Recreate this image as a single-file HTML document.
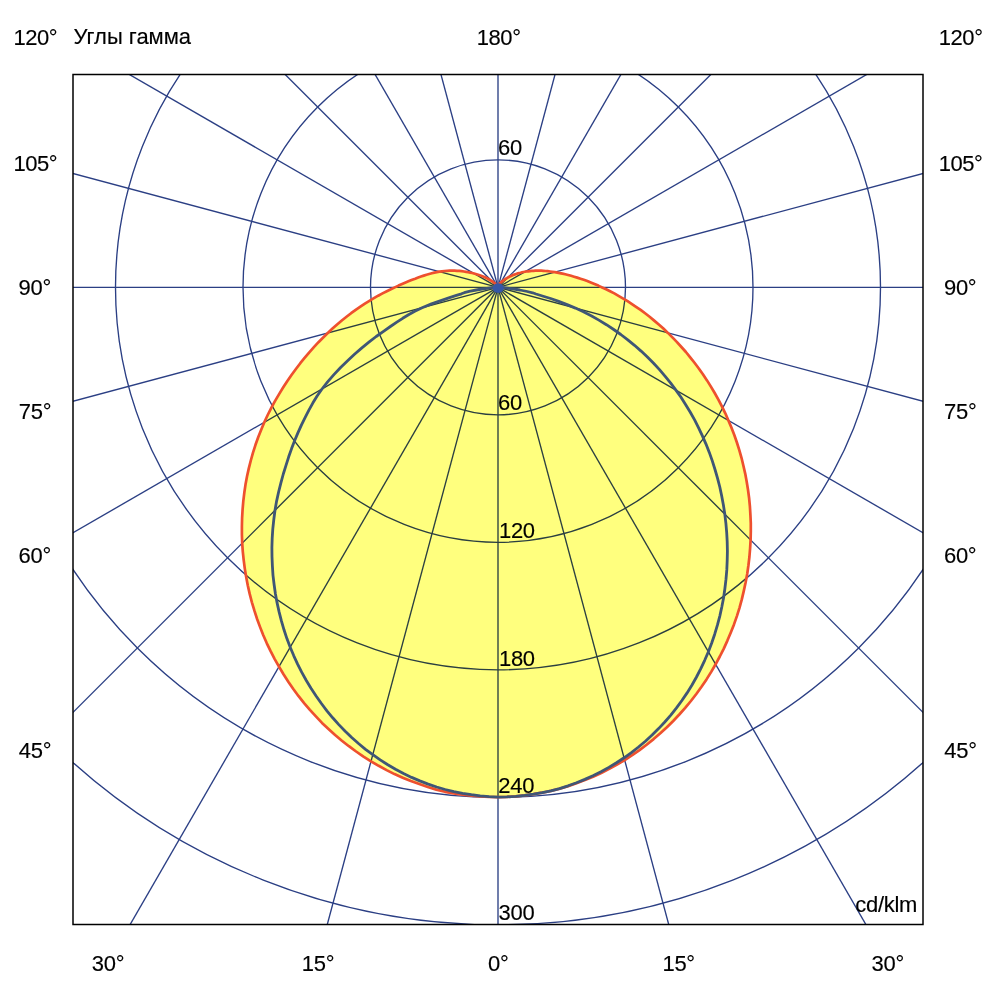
<!DOCTYPE html>
<html lang="ru">
<head>
<meta charset="utf-8">
<title>Углы гамма</title>
<style>
html,body{margin:0;padding:0;background:#fff;}
body{width:1000px;height:1000px;overflow:hidden;}
svg{display:block;}
text{font-family:"Liberation Sans",sans-serif;font-size:22px;fill:#000;stroke:#000;stroke-width:0.15px;}
</style>
</head>
<body>
<svg width="1000" height="1000" viewBox="0 0 1000 1000">
<defs>
<clipPath id="fr"><rect x="73.0" y="74.5" width="850.0" height="850.0"/></clipPath>
<clipPath id="inside"><path d="M498.0,287.4 L498.0,287.2 L498.0,287.1 L498.0,287.1 L498.0,287.0 L498.0,286.9 L498.0,286.9 L497.9,286.8 L497.9,286.8 L497.9,286.8 L497.9,286.7 L497.9,286.7 L497.9,286.7 L497.8,286.7 L497.8,286.7 L497.8,286.7 L497.8,286.6 L497.8,286.6 L497.7,286.6 L497.7,286.5 L497.7,286.5 L497.7,286.5 L497.6,286.4 L497.6,286.3 L497.5,286.2 L497.4,286.1 L497.4,286.0 L497.3,285.9 L497.2,285.8 L497.0,285.6 L496.9,285.4 L496.7,285.3 L496.6,285.1 L496.4,284.8 L496.1,284.6 L495.9,284.3 L495.6,284.1 L495.3,283.8 L495.0,283.5 L494.6,283.2 L494.2,282.8 L493.7,282.5 L493.3,282.1 L492.7,281.7 L492.1,281.3 L491.5,280.9 L490.8,280.4 L490.1,280.0 L489.3,279.5 L488.4,279.0 L487.5,278.5 L486.5,278.0 L485.4,277.5 L484.3,277.0 L483.1,276.5 L481.8,276.0 L480.4,275.5 L478.9,275.0 L477.4,274.5 L475.7,274.0 L474.0,273.5 L472.2,273.0 L470.2,272.6 L468.2,272.2 L466.1,271.8 L463.9,271.5 L461.7,271.2 L459.4,270.9 L457.0,270.8 L454.5,270.7 L452.1,270.6 L449.6,270.7 L447.1,270.8 L444.5,271.0 L442.0,271.3 L439.4,271.6 L436.8,272.1 L434.3,272.6 L431.8,273.3 L429.2,274.0 L426.5,274.7 L423.8,275.6 L421.0,276.5 L418.2,277.5 L415.2,278.7 L412.2,279.8 L409.0,281.1 L405.6,282.5 L402.1,284.0 L398.5,285.6 L394.8,287.4 L390.9,289.2 L386.8,291.2 L382.5,293.4 L378.2,295.7 L373.9,298.2 L369.4,300.9 L364.9,303.7 L360.4,306.7 L355.7,309.9 L351.1,313.2 L346.5,316.8 L341.8,320.5 L337.1,324.5 L332.5,328.6 L327.8,333.0 L323.2,337.5 L318.5,342.2 L313.9,347.2 L309.3,352.3 L304.8,357.7 L300.3,363.2 L295.9,369.0 L291.5,375.0 L287.2,381.2 L283.1,387.6 L279.1,394.1 L275.1,400.9 L271.3,407.9 L267.7,415.0 L264.3,422.3 L261.2,429.7 L258.2,437.2 L255.5,444.8 L253.0,452.6 L250.8,460.5 L248.8,468.4 L247.0,476.5 L245.5,484.6 L244.3,492.8 L243.3,501.1 L242.6,509.4 L242.1,517.8 L241.9,526.2 L241.9,534.6 L242.2,543.1 L242.8,551.6 L243.7,560.1 L244.8,568.6 L246.2,577.1 L247.8,585.5 L249.7,593.9 L251.9,602.3 L254.4,610.7 L257.1,619.0 L260.1,627.1 L263.3,635.3 L266.8,643.3 L270.6,651.2 L274.7,659.1 L279.0,666.7 L283.5,674.3 L288.3,681.7 L293.3,689.0 L298.6,696.2 L304.1,703.1 L309.9,709.8 L315.9,716.4 L322.0,722.9 L328.5,729.0 L335.1,735.0 L341.9,740.7 L348.9,746.2 L356.1,751.5 L363.5,756.6 L371.0,761.3 L378.7,765.8 L386.6,770.1 L394.5,774.1 L402.7,777.7 L410.9,781.1 L419.3,784.1 L427.8,787.0 L436.3,789.6 L445.0,791.8 L453.7,793.4 L462.5,794.7 L471.4,795.7 L480.2,796.5 L489.1,797.0 L498.0,797.2 L506.9,796.9 L515.8,796.3 L524.6,795.3 L533.4,794.1 L542.2,792.7 L550.9,790.9 L559.6,788.7 L568.1,786.1 L576.5,783.2 L584.9,780.1 L593.1,776.7 L601.2,773.0 L609.2,768.9 L617.0,764.6 L624.7,760.0 L632.2,755.2 L639.5,750.1 L646.6,744.7 L653.6,739.1 L660.3,733.3 L666.9,727.3 L673.2,721.0 L679.3,714.5 L685.2,707.9 L690.9,701.0 L696.3,694.0 L701.5,686.8 L706.5,679.4 L711.2,671.9 L715.6,664.3 L719.8,656.5 L723.8,648.6 L727.4,640.6 L730.8,632.5 L734.0,624.4 L736.9,616.1 L739.5,607.8 L741.8,599.4 L743.8,590.9 L745.6,582.5 L747.2,574.0 L748.4,565.5 L749.4,557.0 L750.1,548.4 L750.6,540.0 L750.8,531.5 L750.8,523.1 L750.4,514.6 L749.9,506.3 L749.1,498.0 L748.0,489.8 L746.7,481.7 L745.2,473.6 L743.4,465.7 L741.5,457.8 L739.3,450.1 L736.9,442.5 L734.3,435.0 L731.4,427.6 L728.4,420.4 L725.3,413.3 L721.9,406.4 L718.4,399.6 L714.7,393.0 L710.9,386.6 L707.0,380.4 L702.9,374.3 L698.8,368.5 L694.5,362.8 L690.2,357.3 L685.9,352.0 L681.4,347.0 L677.0,342.1 L672.4,337.4 L667.9,332.9 L663.4,328.6 L658.8,324.5 L654.2,320.6 L649.6,316.8 L645.1,313.3 L640.6,309.9 L636.0,306.8 L631.6,303.8 L627.2,300.9 L622.8,298.3 L618.5,295.8 L614.3,293.4 L610.1,291.3 L606.1,289.2 L602.1,287.4 L598.3,285.6 L594.5,284.0 L590.8,282.5 L587.3,281.1 L583.8,279.8 L580.5,278.7 L577.2,277.6 L574.1,276.7 L571.1,275.8 L568.1,275.0 L565.3,274.3 L562.5,273.6 L559.8,273.1 L557.3,272.6 L554.8,272.1 L552.3,271.8 L550.0,271.5 L547.7,271.2 L545.5,271.0 L543.4,270.8 L541.3,270.7 L539.2,270.7 L537.3,270.7 L535.4,270.7 L533.5,270.8 L531.7,270.9 L530.0,271.1 L528.3,271.3 L526.6,271.5 L525.0,271.7 L523.5,272.0 L522.0,272.3 L520.6,272.7 L519.2,273.0 L517.9,273.4 L516.7,273.8 L515.5,274.2 L514.3,274.6 L513.2,275.0 L512.2,275.5 L511.2,275.9 L510.2,276.3 L509.3,276.8 L508.5,277.2 L507.7,277.6 L507.0,278.1 L506.3,278.5 L505.6,278.9 L505.0,279.3 L504.4,279.7 L503.9,280.1 L503.4,280.4 L503.0,280.8 L502.6,281.1 L502.2,281.4 L501.8,281.7 L501.5,281.9 L501.2,282.2 L501.0,282.4 L500.7,282.6 L500.5,282.8 L500.3,283.0 L500.1,283.2 L499.9,283.4 L499.8,283.5 L499.6,283.7 L499.5,283.8 L499.4,283.9 L499.3,284.0 L499.2,284.2 L499.1,284.3 L499.0,284.4 L498.9,284.5 L498.8,284.6 L498.7,284.7 L498.6,284.8 L498.6,284.9 L498.5,285.0 L498.4,285.1 L498.4,285.2 L498.3,285.4 L498.3,285.6 L498.2,285.7 L498.1,285.9 L498.1,286.1 L498.1,286.3 L498.0,286.6 L498.0,286.8 L498.0,287.1 L498.0,287.4Z"/></clipPath>
<clipPath id="outside"><path clip-rule="evenodd" d="M73.0,74.5H923.0V924.5H73.0Z M498.0,287.4 L498.0,287.2 L498.0,287.1 L498.0,287.1 L498.0,287.0 L498.0,286.9 L498.0,286.9 L497.9,286.8 L497.9,286.8 L497.9,286.8 L497.9,286.7 L497.9,286.7 L497.9,286.7 L497.8,286.7 L497.8,286.7 L497.8,286.7 L497.8,286.6 L497.8,286.6 L497.7,286.6 L497.7,286.5 L497.7,286.5 L497.7,286.5 L497.6,286.4 L497.6,286.3 L497.5,286.2 L497.4,286.1 L497.4,286.0 L497.3,285.9 L497.2,285.8 L497.0,285.6 L496.9,285.4 L496.7,285.3 L496.6,285.1 L496.4,284.8 L496.1,284.6 L495.9,284.3 L495.6,284.1 L495.3,283.8 L495.0,283.5 L494.6,283.2 L494.2,282.8 L493.7,282.5 L493.3,282.1 L492.7,281.7 L492.1,281.3 L491.5,280.9 L490.8,280.4 L490.1,280.0 L489.3,279.5 L488.4,279.0 L487.5,278.5 L486.5,278.0 L485.4,277.5 L484.3,277.0 L483.1,276.5 L481.8,276.0 L480.4,275.5 L478.9,275.0 L477.4,274.5 L475.7,274.0 L474.0,273.5 L472.2,273.0 L470.2,272.6 L468.2,272.2 L466.1,271.8 L463.9,271.5 L461.7,271.2 L459.4,270.9 L457.0,270.8 L454.5,270.7 L452.1,270.6 L449.6,270.7 L447.1,270.8 L444.5,271.0 L442.0,271.3 L439.4,271.6 L436.8,272.1 L434.3,272.6 L431.8,273.3 L429.2,274.0 L426.5,274.7 L423.8,275.6 L421.0,276.5 L418.2,277.5 L415.2,278.7 L412.2,279.8 L409.0,281.1 L405.6,282.5 L402.1,284.0 L398.5,285.6 L394.8,287.4 L390.9,289.2 L386.8,291.2 L382.5,293.4 L378.2,295.7 L373.9,298.2 L369.4,300.9 L364.9,303.7 L360.4,306.7 L355.7,309.9 L351.1,313.2 L346.5,316.8 L341.8,320.5 L337.1,324.5 L332.5,328.6 L327.8,333.0 L323.2,337.5 L318.5,342.2 L313.9,347.2 L309.3,352.3 L304.8,357.7 L300.3,363.2 L295.9,369.0 L291.5,375.0 L287.2,381.2 L283.1,387.6 L279.1,394.1 L275.1,400.9 L271.3,407.9 L267.7,415.0 L264.3,422.3 L261.2,429.7 L258.2,437.2 L255.5,444.8 L253.0,452.6 L250.8,460.5 L248.8,468.4 L247.0,476.5 L245.5,484.6 L244.3,492.8 L243.3,501.1 L242.6,509.4 L242.1,517.8 L241.9,526.2 L241.9,534.6 L242.2,543.1 L242.8,551.6 L243.7,560.1 L244.8,568.6 L246.2,577.1 L247.8,585.5 L249.7,593.9 L251.9,602.3 L254.4,610.7 L257.1,619.0 L260.1,627.1 L263.3,635.3 L266.8,643.3 L270.6,651.2 L274.7,659.1 L279.0,666.7 L283.5,674.3 L288.3,681.7 L293.3,689.0 L298.6,696.2 L304.1,703.1 L309.9,709.8 L315.9,716.4 L322.0,722.9 L328.5,729.0 L335.1,735.0 L341.9,740.7 L348.9,746.2 L356.1,751.5 L363.5,756.6 L371.0,761.3 L378.7,765.8 L386.6,770.1 L394.5,774.1 L402.7,777.7 L410.9,781.1 L419.3,784.1 L427.8,787.0 L436.3,789.6 L445.0,791.8 L453.7,793.4 L462.5,794.7 L471.4,795.7 L480.2,796.5 L489.1,797.0 L498.0,797.2 L506.9,796.9 L515.8,796.3 L524.6,795.3 L533.4,794.1 L542.2,792.7 L550.9,790.9 L559.6,788.7 L568.1,786.1 L576.5,783.2 L584.9,780.1 L593.1,776.7 L601.2,773.0 L609.2,768.9 L617.0,764.6 L624.7,760.0 L632.2,755.2 L639.5,750.1 L646.6,744.7 L653.6,739.1 L660.3,733.3 L666.9,727.3 L673.2,721.0 L679.3,714.5 L685.2,707.9 L690.9,701.0 L696.3,694.0 L701.5,686.8 L706.5,679.4 L711.2,671.9 L715.6,664.3 L719.8,656.5 L723.8,648.6 L727.4,640.6 L730.8,632.5 L734.0,624.4 L736.9,616.1 L739.5,607.8 L741.8,599.4 L743.8,590.9 L745.6,582.5 L747.2,574.0 L748.4,565.5 L749.4,557.0 L750.1,548.4 L750.6,540.0 L750.8,531.5 L750.8,523.1 L750.4,514.6 L749.9,506.3 L749.1,498.0 L748.0,489.8 L746.7,481.7 L745.2,473.6 L743.4,465.7 L741.5,457.8 L739.3,450.1 L736.9,442.5 L734.3,435.0 L731.4,427.6 L728.4,420.4 L725.3,413.3 L721.9,406.4 L718.4,399.6 L714.7,393.0 L710.9,386.6 L707.0,380.4 L702.9,374.3 L698.8,368.5 L694.5,362.8 L690.2,357.3 L685.9,352.0 L681.4,347.0 L677.0,342.1 L672.4,337.4 L667.9,332.9 L663.4,328.6 L658.8,324.5 L654.2,320.6 L649.6,316.8 L645.1,313.3 L640.6,309.9 L636.0,306.8 L631.6,303.8 L627.2,300.9 L622.8,298.3 L618.5,295.8 L614.3,293.4 L610.1,291.3 L606.1,289.2 L602.1,287.4 L598.3,285.6 L594.5,284.0 L590.8,282.5 L587.3,281.1 L583.8,279.8 L580.5,278.7 L577.2,277.6 L574.1,276.7 L571.1,275.8 L568.1,275.0 L565.3,274.3 L562.5,273.6 L559.8,273.1 L557.3,272.6 L554.8,272.1 L552.3,271.8 L550.0,271.5 L547.7,271.2 L545.5,271.0 L543.4,270.8 L541.3,270.7 L539.2,270.7 L537.3,270.7 L535.4,270.7 L533.5,270.8 L531.7,270.9 L530.0,271.1 L528.3,271.3 L526.6,271.5 L525.0,271.7 L523.5,272.0 L522.0,272.3 L520.6,272.7 L519.2,273.0 L517.9,273.4 L516.7,273.8 L515.5,274.2 L514.3,274.6 L513.2,275.0 L512.2,275.5 L511.2,275.9 L510.2,276.3 L509.3,276.8 L508.5,277.2 L507.7,277.6 L507.0,278.1 L506.3,278.5 L505.6,278.9 L505.0,279.3 L504.4,279.7 L503.9,280.1 L503.4,280.4 L503.0,280.8 L502.6,281.1 L502.2,281.4 L501.8,281.7 L501.5,281.9 L501.2,282.2 L501.0,282.4 L500.7,282.6 L500.5,282.8 L500.3,283.0 L500.1,283.2 L499.9,283.4 L499.8,283.5 L499.6,283.7 L499.5,283.8 L499.4,283.9 L499.3,284.0 L499.2,284.2 L499.1,284.3 L499.0,284.4 L498.9,284.5 L498.8,284.6 L498.7,284.7 L498.6,284.8 L498.6,284.9 L498.5,285.0 L498.4,285.1 L498.4,285.2 L498.3,285.4 L498.3,285.6 L498.2,285.7 L498.1,285.9 L498.1,286.1 L498.1,286.3 L498.0,286.6 L498.0,286.8 L498.0,287.1 L498.0,287.4Z"/></clipPath>
</defs>
<rect x="0" y="0" width="1000" height="1000" fill="#fff"/>
<path d="M498.0,287.4 L498.0,287.2 L498.0,287.1 L498.0,287.1 L498.0,287.0 L498.0,286.9 L498.0,286.9 L497.9,286.8 L497.9,286.8 L497.9,286.8 L497.9,286.7 L497.9,286.7 L497.9,286.7 L497.8,286.7 L497.8,286.7 L497.8,286.7 L497.8,286.6 L497.8,286.6 L497.7,286.6 L497.7,286.5 L497.7,286.5 L497.7,286.5 L497.6,286.4 L497.6,286.3 L497.5,286.2 L497.4,286.1 L497.4,286.0 L497.3,285.9 L497.2,285.8 L497.0,285.6 L496.9,285.4 L496.7,285.3 L496.6,285.1 L496.4,284.8 L496.1,284.6 L495.9,284.3 L495.6,284.1 L495.3,283.8 L495.0,283.5 L494.6,283.2 L494.2,282.8 L493.7,282.5 L493.3,282.1 L492.7,281.7 L492.1,281.3 L491.5,280.9 L490.8,280.4 L490.1,280.0 L489.3,279.5 L488.4,279.0 L487.5,278.5 L486.5,278.0 L485.4,277.5 L484.3,277.0 L483.1,276.5 L481.8,276.0 L480.4,275.5 L478.9,275.0 L477.4,274.5 L475.7,274.0 L474.0,273.5 L472.2,273.0 L470.2,272.6 L468.2,272.2 L466.1,271.8 L463.9,271.5 L461.7,271.2 L459.4,270.9 L457.0,270.8 L454.5,270.7 L452.1,270.6 L449.6,270.7 L447.1,270.8 L444.5,271.0 L442.0,271.3 L439.4,271.6 L436.8,272.1 L434.3,272.6 L431.8,273.3 L429.2,274.0 L426.5,274.7 L423.8,275.6 L421.0,276.5 L418.2,277.5 L415.2,278.7 L412.2,279.8 L409.0,281.1 L405.6,282.5 L402.1,284.0 L398.5,285.6 L394.8,287.4 L390.9,289.2 L386.8,291.2 L382.5,293.4 L378.2,295.7 L373.9,298.2 L369.4,300.9 L364.9,303.7 L360.4,306.7 L355.7,309.9 L351.1,313.2 L346.5,316.8 L341.8,320.5 L337.1,324.5 L332.5,328.6 L327.8,333.0 L323.2,337.5 L318.5,342.2 L313.9,347.2 L309.3,352.3 L304.8,357.7 L300.3,363.2 L295.9,369.0 L291.5,375.0 L287.2,381.2 L283.1,387.6 L279.1,394.1 L275.1,400.9 L271.3,407.9 L267.7,415.0 L264.3,422.3 L261.2,429.7 L258.2,437.2 L255.5,444.8 L253.0,452.6 L250.8,460.5 L248.8,468.4 L247.0,476.5 L245.5,484.6 L244.3,492.8 L243.3,501.1 L242.6,509.4 L242.1,517.8 L241.9,526.2 L241.9,534.6 L242.2,543.1 L242.8,551.6 L243.7,560.1 L244.8,568.6 L246.2,577.1 L247.8,585.5 L249.7,593.9 L251.9,602.3 L254.4,610.7 L257.1,619.0 L260.1,627.1 L263.3,635.3 L266.8,643.3 L270.6,651.2 L274.7,659.1 L279.0,666.7 L283.5,674.3 L288.3,681.7 L293.3,689.0 L298.6,696.2 L304.1,703.1 L309.9,709.8 L315.9,716.4 L322.0,722.9 L328.5,729.0 L335.1,735.0 L341.9,740.7 L348.9,746.2 L356.1,751.5 L363.5,756.6 L371.0,761.3 L378.7,765.8 L386.6,770.1 L394.5,774.1 L402.7,777.7 L410.9,781.1 L419.3,784.1 L427.8,787.0 L436.3,789.6 L445.0,791.8 L453.7,793.4 L462.5,794.7 L471.4,795.7 L480.2,796.5 L489.1,797.0 L498.0,797.2 L506.9,796.9 L515.8,796.3 L524.6,795.3 L533.4,794.1 L542.2,792.7 L550.9,790.9 L559.6,788.7 L568.1,786.1 L576.5,783.2 L584.9,780.1 L593.1,776.7 L601.2,773.0 L609.2,768.9 L617.0,764.6 L624.7,760.0 L632.2,755.2 L639.5,750.1 L646.6,744.7 L653.6,739.1 L660.3,733.3 L666.9,727.3 L673.2,721.0 L679.3,714.5 L685.2,707.9 L690.9,701.0 L696.3,694.0 L701.5,686.8 L706.5,679.4 L711.2,671.9 L715.6,664.3 L719.8,656.5 L723.8,648.6 L727.4,640.6 L730.8,632.5 L734.0,624.4 L736.9,616.1 L739.5,607.8 L741.8,599.4 L743.8,590.9 L745.6,582.5 L747.2,574.0 L748.4,565.5 L749.4,557.0 L750.1,548.4 L750.6,540.0 L750.8,531.5 L750.8,523.1 L750.4,514.6 L749.9,506.3 L749.1,498.0 L748.0,489.8 L746.7,481.7 L745.2,473.6 L743.4,465.7 L741.5,457.8 L739.3,450.1 L736.9,442.5 L734.3,435.0 L731.4,427.6 L728.4,420.4 L725.3,413.3 L721.9,406.4 L718.4,399.6 L714.7,393.0 L710.9,386.6 L707.0,380.4 L702.9,374.3 L698.8,368.5 L694.5,362.8 L690.2,357.3 L685.9,352.0 L681.4,347.0 L677.0,342.1 L672.4,337.4 L667.9,332.9 L663.4,328.6 L658.8,324.5 L654.2,320.6 L649.6,316.8 L645.1,313.3 L640.6,309.9 L636.0,306.8 L631.6,303.8 L627.2,300.9 L622.8,298.3 L618.5,295.8 L614.3,293.4 L610.1,291.3 L606.1,289.2 L602.1,287.4 L598.3,285.6 L594.5,284.0 L590.8,282.5 L587.3,281.1 L583.8,279.8 L580.5,278.7 L577.2,277.6 L574.1,276.7 L571.1,275.8 L568.1,275.0 L565.3,274.3 L562.5,273.6 L559.8,273.1 L557.3,272.6 L554.8,272.1 L552.3,271.8 L550.0,271.5 L547.7,271.2 L545.5,271.0 L543.4,270.8 L541.3,270.7 L539.2,270.7 L537.3,270.7 L535.4,270.7 L533.5,270.8 L531.7,270.9 L530.0,271.1 L528.3,271.3 L526.6,271.5 L525.0,271.7 L523.5,272.0 L522.0,272.3 L520.6,272.7 L519.2,273.0 L517.9,273.4 L516.7,273.8 L515.5,274.2 L514.3,274.6 L513.2,275.0 L512.2,275.5 L511.2,275.9 L510.2,276.3 L509.3,276.8 L508.5,277.2 L507.7,277.6 L507.0,278.1 L506.3,278.5 L505.6,278.9 L505.0,279.3 L504.4,279.7 L503.9,280.1 L503.4,280.4 L503.0,280.8 L502.6,281.1 L502.2,281.4 L501.8,281.7 L501.5,281.9 L501.2,282.2 L501.0,282.4 L500.7,282.6 L500.5,282.8 L500.3,283.0 L500.1,283.2 L499.9,283.4 L499.8,283.5 L499.6,283.7 L499.5,283.8 L499.4,283.9 L499.3,284.0 L499.2,284.2 L499.1,284.3 L499.0,284.4 L498.9,284.5 L498.8,284.6 L498.7,284.7 L498.6,284.8 L498.6,284.9 L498.5,285.0 L498.4,285.1 L498.4,285.2 L498.3,285.4 L498.3,285.6 L498.2,285.7 L498.1,285.9 L498.1,286.1 L498.1,286.3 L498.0,286.6 L498.0,286.8 L498.0,287.1 L498.0,287.4Z" fill="#ffff7e"/>
<g clip-path="url(#outside)" fill="none" stroke="#2b3f84" stroke-width="1.35">
<circle cx="498.0" cy="287.35" r="127.5"/>
<circle cx="498.0" cy="287.35" r="255.0"/>
<circle cx="498.0" cy="287.35" r="382.5"/>
<circle cx="498.0" cy="287.35" r="510.0"/>
<circle cx="498.0" cy="287.35" r="637.5"/>
<line x1="498.0" y1="287.35" x2="498.0" y2="1787.3"/>
<line x1="498.0" y1="287.35" x2="886.2" y2="1736.2"/>
<line x1="498.0" y1="287.35" x2="1248.0" y2="1586.4"/>
<line x1="498.0" y1="287.35" x2="1558.7" y2="1348.0"/>
<line x1="498.0" y1="287.35" x2="1797.0" y2="1037.4"/>
<line x1="498.0" y1="287.35" x2="1946.9" y2="675.6"/>
<line x1="498.0" y1="287.35" x2="1998.0" y2="287.4"/>
<line x1="498.0" y1="287.35" x2="1946.9" y2="-100.9"/>
<line x1="498.0" y1="287.35" x2="1797.0" y2="-462.6"/>
<line x1="498.0" y1="287.35" x2="1558.7" y2="-773.3"/>
<line x1="498.0" y1="287.35" x2="1248.0" y2="-1011.7"/>
<line x1="498.0" y1="287.35" x2="886.2" y2="-1161.5"/>
<line x1="498.0" y1="287.35" x2="498.0" y2="-1212.7"/>
<line x1="498.0" y1="287.35" x2="109.8" y2="-1161.5"/>
<line x1="498.0" y1="287.35" x2="-252.0" y2="-1011.7"/>
<line x1="498.0" y1="287.35" x2="-562.7" y2="-773.3"/>
<line x1="498.0" y1="287.35" x2="-801.0" y2="-462.7"/>
<line x1="498.0" y1="287.35" x2="-950.9" y2="-100.9"/>
<line x1="498.0" y1="287.35" x2="-1002.0" y2="287.3"/>
<line x1="498.0" y1="287.35" x2="-950.9" y2="675.6"/>
<line x1="498.0" y1="287.35" x2="-801.0" y2="1037.4"/>
<line x1="498.0" y1="287.35" x2="-562.7" y2="1348.0"/>
<line x1="498.0" y1="287.35" x2="-252.0" y2="1586.4"/>
<line x1="498.0" y1="287.35" x2="109.8" y2="1736.2"/>
</g>
<g clip-path="url(#inside)" fill="none" stroke="#2b3f41" stroke-width="1.35">
<circle cx="498.0" cy="287.35" r="127.5"/>
<circle cx="498.0" cy="287.35" r="255.0"/>
<circle cx="498.0" cy="287.35" r="382.5"/>
<circle cx="498.0" cy="287.35" r="510.0"/>
<circle cx="498.0" cy="287.35" r="637.5"/>
<line x1="498.0" y1="287.35" x2="498.0" y2="1787.3"/>
<line x1="498.0" y1="287.35" x2="886.2" y2="1736.2"/>
<line x1="498.0" y1="287.35" x2="1248.0" y2="1586.4"/>
<line x1="498.0" y1="287.35" x2="1558.7" y2="1348.0"/>
<line x1="498.0" y1="287.35" x2="1797.0" y2="1037.4"/>
<line x1="498.0" y1="287.35" x2="1946.9" y2="675.6"/>
<line x1="498.0" y1="287.35" x2="1998.0" y2="287.4"/>
<line x1="498.0" y1="287.35" x2="1946.9" y2="-100.9"/>
<line x1="498.0" y1="287.35" x2="1797.0" y2="-462.6"/>
<line x1="498.0" y1="287.35" x2="1558.7" y2="-773.3"/>
<line x1="498.0" y1="287.35" x2="1248.0" y2="-1011.7"/>
<line x1="498.0" y1="287.35" x2="886.2" y2="-1161.5"/>
<line x1="498.0" y1="287.35" x2="498.0" y2="-1212.7"/>
<line x1="498.0" y1="287.35" x2="109.8" y2="-1161.5"/>
<line x1="498.0" y1="287.35" x2="-252.0" y2="-1011.7"/>
<line x1="498.0" y1="287.35" x2="-562.7" y2="-773.3"/>
<line x1="498.0" y1="287.35" x2="-801.0" y2="-462.7"/>
<line x1="498.0" y1="287.35" x2="-950.9" y2="-100.9"/>
<line x1="498.0" y1="287.35" x2="-1002.0" y2="287.3"/>
<line x1="498.0" y1="287.35" x2="-950.9" y2="675.6"/>
<line x1="498.0" y1="287.35" x2="-801.0" y2="1037.4"/>
<line x1="498.0" y1="287.35" x2="-562.7" y2="1348.0"/>
<line x1="498.0" y1="287.35" x2="-252.0" y2="1586.4"/>
<line x1="498.0" y1="287.35" x2="109.8" y2="1736.2"/>
</g>
<g clip-path="url(#fr)">
<path d="M498.0,287.4 L498.0,287.2 L498.0,287.1 L498.0,287.1 L498.0,287.0 L498.0,286.9 L498.0,286.9 L497.9,286.8 L497.9,286.8 L497.9,286.8 L497.9,286.7 L497.9,286.7 L497.9,286.7 L497.8,286.7 L497.8,286.7 L497.8,286.7 L497.8,286.6 L497.8,286.6 L497.7,286.6 L497.7,286.5 L497.7,286.5 L497.7,286.5 L497.6,286.4 L497.6,286.3 L497.5,286.2 L497.4,286.1 L497.4,286.0 L497.3,285.9 L497.2,285.8 L497.0,285.6 L496.9,285.4 L496.7,285.3 L496.6,285.1 L496.4,284.8 L496.1,284.6 L495.9,284.3 L495.6,284.1 L495.3,283.8 L495.0,283.5 L494.6,283.2 L494.2,282.8 L493.7,282.5 L493.3,282.1 L492.7,281.7 L492.1,281.3 L491.5,280.9 L490.8,280.4 L490.1,280.0 L489.3,279.5 L488.4,279.0 L487.5,278.5 L486.5,278.0 L485.4,277.5 L484.3,277.0 L483.1,276.5 L481.8,276.0 L480.4,275.5 L478.9,275.0 L477.4,274.5 L475.7,274.0 L474.0,273.5 L472.2,273.0 L470.2,272.6 L468.2,272.2 L466.1,271.8 L463.9,271.5 L461.7,271.2 L459.4,270.9 L457.0,270.8 L454.5,270.7 L452.1,270.6 L449.6,270.7 L447.1,270.8 L444.5,271.0 L442.0,271.3 L439.4,271.6 L436.8,272.1 L434.3,272.6 L431.8,273.3 L429.2,274.0 L426.5,274.7 L423.8,275.6 L421.0,276.5 L418.2,277.5 L415.2,278.7 L412.2,279.8 L409.0,281.1 L405.6,282.5 L402.1,284.0 L398.5,285.6 L394.8,287.4 L390.9,289.2 L386.8,291.2 L382.5,293.4 L378.2,295.7 L373.9,298.2 L369.4,300.9 L364.9,303.7 L360.4,306.7 L355.7,309.9 L351.1,313.2 L346.5,316.8 L341.8,320.5 L337.1,324.5 L332.5,328.6 L327.8,333.0 L323.2,337.5 L318.5,342.2 L313.9,347.2 L309.3,352.3 L304.8,357.7 L300.3,363.2 L295.9,369.0 L291.5,375.0 L287.2,381.2 L283.1,387.6 L279.1,394.1 L275.1,400.9 L271.3,407.9 L267.7,415.0 L264.3,422.3 L261.2,429.7 L258.2,437.2 L255.5,444.8 L253.0,452.6 L250.8,460.5 L248.8,468.4 L247.0,476.5 L245.5,484.6 L244.3,492.8 L243.3,501.1 L242.6,509.4 L242.1,517.8 L241.9,526.2 L241.9,534.6 L242.2,543.1 L242.8,551.6 L243.7,560.1 L244.8,568.6 L246.2,577.1 L247.8,585.5 L249.7,593.9 L251.9,602.3 L254.4,610.7 L257.1,619.0 L260.1,627.1 L263.3,635.3 L266.8,643.3 L270.6,651.2 L274.7,659.1 L279.0,666.7 L283.5,674.3 L288.3,681.7 L293.3,689.0 L298.6,696.2 L304.1,703.1 L309.9,709.8 L315.9,716.4 L322.0,722.9 L328.5,729.0 L335.1,735.0 L341.9,740.7 L348.9,746.2 L356.1,751.5 L363.5,756.6 L371.0,761.3 L378.7,765.8 L386.6,770.1 L394.5,774.1 L402.7,777.7 L410.9,781.1 L419.3,784.1 L427.8,787.0 L436.3,789.6 L445.0,791.8 L453.7,793.4 L462.5,794.7 L471.4,795.7 L480.2,796.5 L489.1,797.0 L498.0,797.2 L506.9,796.9 L515.8,796.3 L524.6,795.3 L533.4,794.1 L542.2,792.7 L550.9,790.9 L559.6,788.7 L568.1,786.1 L576.5,783.2 L584.9,780.1 L593.1,776.7 L601.2,773.0 L609.2,768.9 L617.0,764.6 L624.7,760.0 L632.2,755.2 L639.5,750.1 L646.6,744.7 L653.6,739.1 L660.3,733.3 L666.9,727.3 L673.2,721.0 L679.3,714.5 L685.2,707.9 L690.9,701.0 L696.3,694.0 L701.5,686.8 L706.5,679.4 L711.2,671.9 L715.6,664.3 L719.8,656.5 L723.8,648.6 L727.4,640.6 L730.8,632.5 L734.0,624.4 L736.9,616.1 L739.5,607.8 L741.8,599.4 L743.8,590.9 L745.6,582.5 L747.2,574.0 L748.4,565.5 L749.4,557.0 L750.1,548.4 L750.6,540.0 L750.8,531.5 L750.8,523.1 L750.4,514.6 L749.9,506.3 L749.1,498.0 L748.0,489.8 L746.7,481.7 L745.2,473.6 L743.4,465.7 L741.5,457.8 L739.3,450.1 L736.9,442.5 L734.3,435.0 L731.4,427.6 L728.4,420.4 L725.3,413.3 L721.9,406.4 L718.4,399.6 L714.7,393.0 L710.9,386.6 L707.0,380.4 L702.9,374.3 L698.8,368.5 L694.5,362.8 L690.2,357.3 L685.9,352.0 L681.4,347.0 L677.0,342.1 L672.4,337.4 L667.9,332.9 L663.4,328.6 L658.8,324.5 L654.2,320.6 L649.6,316.8 L645.1,313.3 L640.6,309.9 L636.0,306.8 L631.6,303.8 L627.2,300.9 L622.8,298.3 L618.5,295.8 L614.3,293.4 L610.1,291.3 L606.1,289.2 L602.1,287.4 L598.3,285.6 L594.5,284.0 L590.8,282.5 L587.3,281.1 L583.8,279.8 L580.5,278.7 L577.2,277.6 L574.1,276.7 L571.1,275.8 L568.1,275.0 L565.3,274.3 L562.5,273.6 L559.8,273.1 L557.3,272.6 L554.8,272.1 L552.3,271.8 L550.0,271.5 L547.7,271.2 L545.5,271.0 L543.4,270.8 L541.3,270.7 L539.2,270.7 L537.3,270.7 L535.4,270.7 L533.5,270.8 L531.7,270.9 L530.0,271.1 L528.3,271.3 L526.6,271.5 L525.0,271.7 L523.5,272.0 L522.0,272.3 L520.6,272.7 L519.2,273.0 L517.9,273.4 L516.7,273.8 L515.5,274.2 L514.3,274.6 L513.2,275.0 L512.2,275.5 L511.2,275.9 L510.2,276.3 L509.3,276.8 L508.5,277.2 L507.7,277.6 L507.0,278.1 L506.3,278.5 L505.6,278.9 L505.0,279.3 L504.4,279.7 L503.9,280.1 L503.4,280.4 L503.0,280.8 L502.6,281.1 L502.2,281.4 L501.8,281.7 L501.5,281.9 L501.2,282.2 L501.0,282.4 L500.7,282.6 L500.5,282.8 L500.3,283.0 L500.1,283.2 L499.9,283.4 L499.8,283.5 L499.6,283.7 L499.5,283.8 L499.4,283.9 L499.3,284.0 L499.2,284.2 L499.1,284.3 L499.0,284.4 L498.9,284.5 L498.8,284.6 L498.7,284.7 L498.6,284.8 L498.6,284.9 L498.5,285.0 L498.4,285.1 L498.4,285.2 L498.3,285.4 L498.3,285.6 L498.2,285.7 L498.1,285.9 L498.1,286.1 L498.1,286.3 L498.0,286.6 L498.0,286.8 L498.0,287.1 L498.0,287.4Z" fill="none" stroke="#ee502e" stroke-width="2.7" stroke-linejoin="round"/>
<path d="M498.0,287.4 L496.7,287.4 L495.0,287.5 L492.9,287.6 L490.3,287.9 L486.9,288.3 L482.0,289.0 L476.3,290.0 L469.2,291.4 L464.3,292.7 L461.5,293.8 L456.4,295.4 L449.6,297.6 L441.6,300.4 L431.5,303.9 L422.1,307.7 L414.8,311.2 L408.5,314.7 L402.7,318.3 L396.8,322.2 L390.4,326.5 L383.5,331.3 L376.2,336.5 L368.9,342.2 L361.6,348.1 L354.5,354.2 L347.6,360.7 L340.6,367.5 L333.9,374.6 L327.6,381.8 L322.0,389.0 L317.1,396.0 L312.8,403.1 L308.9,410.2 L305.2,417.4 L301.5,424.9 L298.0,432.6 L294.7,440.5 L291.6,448.6 L288.7,456.8 L286.0,465.3 L283.3,474.0 L280.9,482.9 L278.6,492.0 L276.6,501.1 L275.0,510.3 L273.8,519.5 L272.8,528.8 L272.2,538.1 L271.9,547.4 L272.0,556.7 L272.4,566.0 L273.0,575.3 L274.1,584.5 L275.4,593.7 L277.1,602.9 L279.1,611.9 L281.4,620.9 L284.0,629.8 L286.9,638.6 L290.2,647.3 L293.8,655.8 L297.6,664.2 L301.8,672.4 L306.3,680.5 L311.0,688.3 L316.1,696.0 L321.4,703.5 L326.9,710.8 L332.7,717.8 L338.8,724.6 L345.2,731.2 L351.7,737.5 L358.5,743.5 L365.5,749.3 L372.8,754.7 L380.2,759.9 L387.8,764.7 L395.5,769.3 L403.5,773.6 L411.6,777.4 L419.8,780.9 L428.2,784.1 L436.7,787.0 L445.2,789.5 L453.9,791.6 L462.6,793.3 L471.4,794.7 L480.2,795.9 L489.1,796.7 L498.0,797.2 L506.9,796.9 L515.8,796.3 L524.6,795.4 L533.4,794.2 L542.2,792.7 L550.9,790.9 L559.5,788.6 L568.1,785.8 L576.5,782.7 L584.8,779.4 L592.9,775.8 L601.0,771.8 L608.8,767.4 L616.5,762.7 L624.1,757.8 L631.4,752.6 L638.5,747.0 L645.4,741.2 L652.1,735.0 L658.6,728.6 L664.8,722.0 L670.8,715.1 L676.5,707.9 L681.9,700.5 L687.1,692.9 L692.0,685.0 L696.5,677.0 L700.8,668.7 L704.7,660.3 L708.4,651.7 L711.7,643.0 L714.7,634.2 L717.4,625.2 L719.8,616.1 L721.8,607.0 L723.6,597.8 L724.9,588.5 L726.0,579.2 L726.8,569.9 L727.2,560.5 L727.4,551.2 L727.2,541.9 L726.7,532.6 L725.9,523.3 L724.8,514.1 L723.4,505.0 L721.7,496.0 L719.8,487.0 L717.5,478.2 L715.0,469.5 L712.3,460.9 L709.3,452.4 L706.0,444.1 L702.4,435.9 L698.6,427.8 L694.6,419.9 L690.3,412.2 L685.7,404.7 L681.0,397.3 L675.9,390.1 L670.7,383.1 L665.2,376.3 L659.5,369.6 L653.6,363.2 L647.4,357.0 L641.1,351.1 L634.5,345.3 L627.8,339.8 L620.8,334.5 L613.7,329.5 L606.4,324.7 L598.9,320.1 L591.2,315.8 L583.4,311.8 L575.4,308.1 L567.1,304.6 L558.7,301.4 L550.6,298.5 L542.4,296.0 L536.0,294.0 L532.6,292.8 L527.2,291.5 L519.8,290.0 L513.9,289.0 L509.1,288.3 L505.7,287.9 L503.1,287.6 L501.0,287.5 L499.3,287.4 L498.0,287.4Z" fill="none" stroke="#3f5676" stroke-width="2.8" stroke-linejoin="round"/>
<ellipse cx="498.2" cy="288.15000000000003" rx="5.6" ry="4.8" fill="#3657a6"/>
</g>
<rect x="73.0" y="74.5" width="850.0" height="850.0" fill="none" stroke="#000" stroke-width="1.5"/>
<g>
<text transform="translate(13.4 44.95) scale(1 1.035)" letter-spacing="-0.45">120°</text>
<text transform="translate(73.6 44.2) scale(1 1.035)">Углы гамма</text>
<text transform="translate(476.8 44.95) scale(1 1.035)" letter-spacing="-0.45">180°</text>
<text transform="translate(938.8 44.95) scale(1 1.035)" letter-spacing="-0.45">120°</text>
<text transform="translate(13.4 171.2) scale(1 1.035)" letter-spacing="-0.45">105°</text>
<text transform="translate(938.7 171.2) scale(1 1.035)" letter-spacing="-0.45">105°</text>
<text transform="translate(18.6 295.4) scale(1 1.035)" letter-spacing="-0.25">90°</text>
<text transform="translate(943.9 295.4) scale(1 1.035)" letter-spacing="-0.25">90°</text>
<text transform="translate(18.8 419.4) scale(1 1.035)" letter-spacing="-0.25">75°</text>
<text transform="translate(944.1 419.4) scale(1 1.035)" letter-spacing="-0.25">75°</text>
<text transform="translate(18.5 562.6) scale(1 1.035)" letter-spacing="-0.25">60°</text>
<text transform="translate(943.9 562.6) scale(1 1.035)" letter-spacing="-0.25">60°</text>
<text transform="translate(18.7 758.2) scale(1 1.035)" letter-spacing="-0.25">45°</text>
<text transform="translate(944.2 758.2) scale(1 1.035)" letter-spacing="-0.25">45°</text>
<text transform="translate(91.7 970.6) scale(1 1.035)" letter-spacing="-0.25">30°</text>
<text transform="translate(301.7 970.6) scale(1 1.035)" letter-spacing="-0.25">15°</text>
<text transform="translate(487.9 970.6) scale(1 1.035)" letter-spacing="-0.25">0°</text>
<text transform="translate(662.4 970.6) scale(1 1.035)" letter-spacing="-0.25">15°</text>
<text transform="translate(871.5 970.6) scale(1 1.035)" letter-spacing="-0.25">30°</text>
<text transform="translate(497.9 155.2) scale(1 1.035)" letter-spacing="-0.25">60</text>
<text transform="translate(497.9 410.4) scale(1 1.035)" letter-spacing="-0.25">60</text>
<text transform="translate(498.9 538.0) scale(1 1.035)" letter-spacing="-0.25">120</text>
<text transform="translate(498.9 665.5) scale(1 1.035)" letter-spacing="-0.25">180</text>
<text transform="translate(498.2 793.0) scale(1 1.035)" letter-spacing="-0.25">240</text>
<text transform="translate(498.5 920.4) scale(1 1.035)" letter-spacing="-0.25">300</text>
<text transform="translate(855.3 912.0) scale(1 1.035)" letter-spacing="-0.3">cd/klm</text>
</g>
</svg>
</body>
</html>
